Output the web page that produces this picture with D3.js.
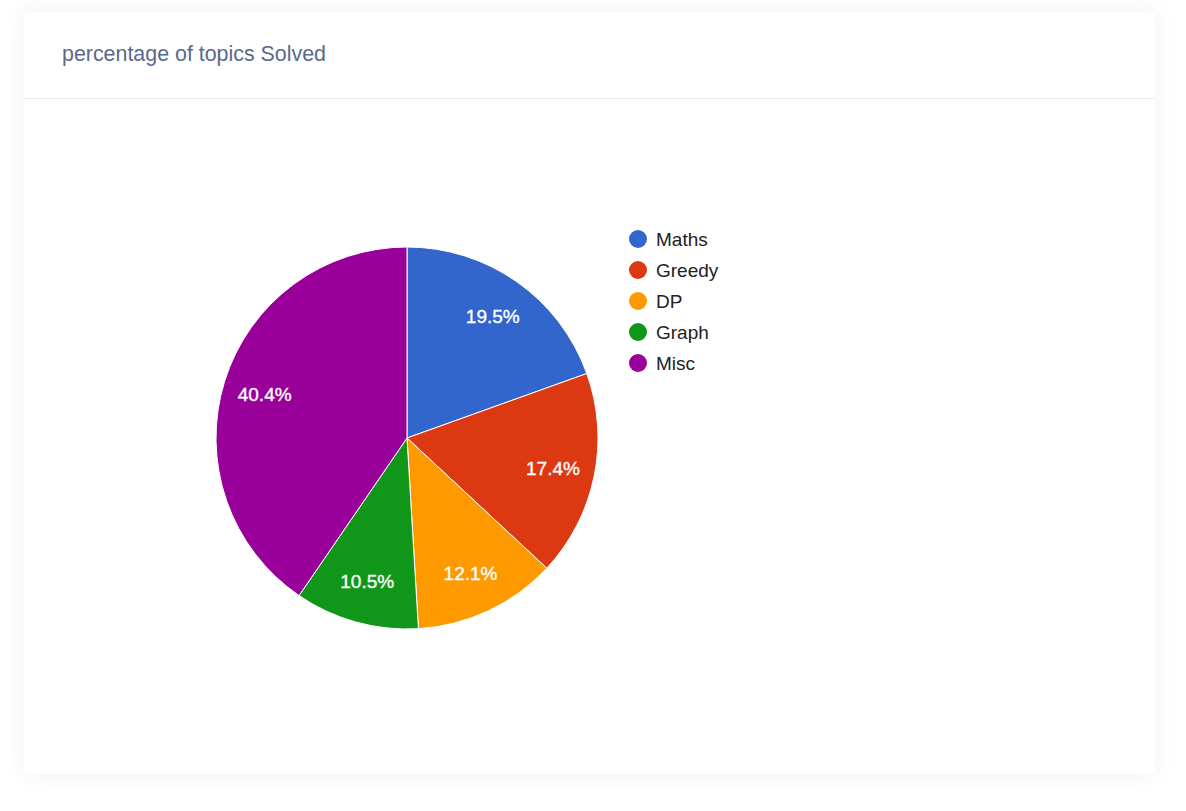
<!DOCTYPE html>
<html>
<head>
<meta charset="utf-8">
<script src="https://cdn.jsdelivr.net/npm/d3@7"></script>
<style>
  html, body { margin: 0; padding: 0; background: #ffffff; }
  body { width: 1186px; height: 811px; position: relative; overflow: hidden; font-family: "Liberation Sans", Arial, sans-serif; }
  .card {
    position: absolute; left: 24px; top: 12px; width: 1131px; height: 762px;
    background: #fff; border-radius: 5px;
    box-shadow: 0 0 22px rgba(40, 50, 70, 0.07);
  }
  .card-header {
    height: 87px; border-bottom: 1px solid #eceef1; box-sizing: border-box;
  }
  .card-title {
    position: absolute; left: 38px; top: 30px; font-size: 21.4px; color: #5a6a8b;
  }
  #chart { position: absolute; left: 0; top: 0; }
</style>
</head>
<body>
<div class="card">
  <div class="card-header"></div>
  <div class="card-title">percentage of topics Solved</div>
</div>
<svg id="chart" width="1186" height="811"></svg>
<script>
// topic share of solved problems
const topics = ["Maths", "Greedy", "DP", "Graph", "Misc"];
const shares = [19.5, 17.4, 12.1, 10.5, 40.4];
const colors = ["#3366cc", "#dc3912", "#ff9900", "#109618", "#990099"];

const svg = d3.select("#chart");
const cx = 407, cy = 438, radius = 191;

const color = d3.scaleOrdinal().domain(topics).range(colors);

const pie = d3.pie().sort(null).value(d => d.value);
const data = topics.map((t, i) => ({ name: t, value: shares[i] }));
const arcs = pie(data);

const arc = d3.arc().innerRadius(0).outerRadius(radius);
const labelArc = d3.arc().innerRadius(149).outerRadius(149);

const g = svg.append("g").attr("transform", `translate(${cx},${cy})`);

g.selectAll("path")
    .data(arcs)
    .enter().append("path")
    .attr("d", arc)
    .attr("fill", d => color(d.data.name))
    .attr("stroke", "#ffffff")
    .attr("stroke-width", 1);

// slice percentages, slightly heavy white text
g.selectAll("text.slice")
    .data(arcs)
    .enter().append("text")
    .attr("class", "slice")
    .attr("transform", d => `translate(${labelArc.centroid(d)})`)
    .attr("text-anchor", "middle")
    .attr("dy", "0.36em")
    .attr("fill", "#ffffff")
    .attr("stroke", "#ffffff")
    .attr("stroke-width", 0.35)
    .style("font-size", "19px")
    .text(d => d.data.value.toFixed(1) + "%");

// legend on the right
const legend = svg.append("g").attr("transform", "translate(638,239)");
const rowH = 31;

legend.selectAll("circle")
    .data(topics)
    .enter().append("circle")
    .attr("cx", 0)
    .attr("cy", (d, i) => i * rowH)
    .attr("r", 9)
    .attr("fill", d => color(d));

legend.selectAll("text")
    .data(topics)
    .enter().append("text")
    .attr("x", 18)
    .attr("y", (d, i) => i * rowH)
    .attr("dy", "0.36em")
    .attr("fill", "#222222")
    .style("font-size", "19px")
    .text(d => d);
</script>
</body>
</html>
